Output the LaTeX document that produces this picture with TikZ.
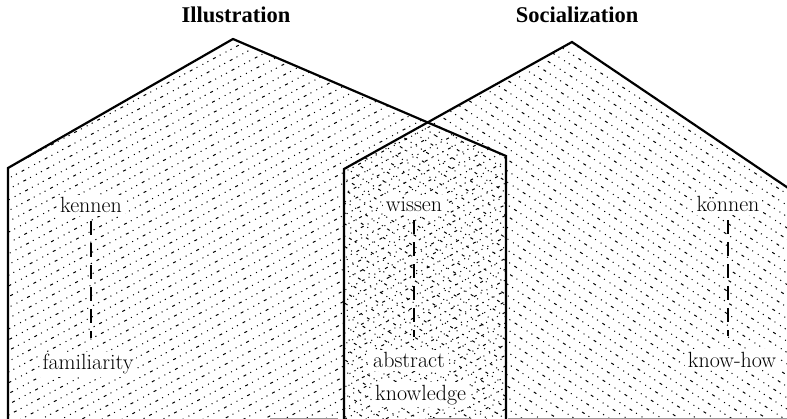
\documentclass[tikz,border=0pt]{standalone}
\usepackage{fontspec}
\newfontfamily\headfont{Liberation Serif}

\begin{document}
\begin{tikzpicture}[x=1pt,y=-1pt,
  wall/.style={line width=2.2pt,line join=miter},
  hatch/.style={line width=1pt,
    dash pattern=on 1pt off 4.6pt on 1.2pt off 5.2pt on 3pt off 4.6pt on 1pt off 5.6pt},
  label/.style={font=\fontsize{22}{26}\selectfont,inner sep=3pt,anchor=base,fill=white},
  heading/.style={font=\headfont\bfseries\fontsize{22.5}{26}\selectfont,anchor=base},
  link/.style={line width=1.4pt,dash pattern=on 14pt off 8pt,
    shorten <=5pt,shorten >=13pt},
  faint/.style={line width=0.8pt,black!40}]

  \useasboundingbox (0,0) rectangle (787,419);

  % hatching of the left house
  \begin{scope}
    \clip (8,419) -- (8,168) -- (233,39) -- (506,156) -- (506,419) -- cycle;
    \foreach \i [evaluate=\i as \ph using {mod(\i*37,17)}] in {-100,...,100}
      \draw[hatch,dash phase=\ph pt,rotate=28] (-1200,\i*9.5) -- (1200,\i*9.5);
  \end{scope}

  % hatching of the right house
  \begin{scope}
    \clip (344,419) -- (344,169) -- (572,42) -- (800,196) -- (800,419) -- cycle;
    \foreach \i [evaluate=\i as \ph using {mod(\i*29,15)}] in {-100,...,100}
      \draw[hatch,dash phase=\ph pt,rotate=-33] (-1200,\i*9.5) -- (1200,\i*9.5);
  \end{scope}

  % outlines
  \draw[wall] (8,419) -- (8,168) -- (233,39) -- (506,156) -- (506,419);
  \draw[wall] (344,419) -- (344,169) -- (572,42) -- (800,196);

  % bottom edge, faint
  \draw[faint] (270,418) -- (338,418);
  \draw[faint] (428,418) -- (470,418);
  \draw[faint] (508,418) -- (787,418);

  % headings
  \node[heading] (illustration) at (236,23) {Illustration};
  \node[heading] (socialization) at (577,23) {Socialization};

  % labels
  \node[label] (kennen) at (91,213) {kennen};
  \node[label] (familiarity) at (88,370) {familiarity};
  \node[label] (wissen) at (414,212) {wissen};
  \node[label,anchor=base west] (abstract) at (370,368) {abstract};
  \node[label,anchor=base west] (knowledge) at (372,400) {knowledge};
  \node[label] (koennen) at (728,212) {können};
  \node[label] (knowhow) at (732,367) {know-how};

  % dashed links
  \draw[link] (kennen.south) -- (kennen.south |- familiarity.north);
  \draw[link] (wissen.south) -- (wissen.south |- abstract.north);
  \draw[link] (koennen.south) -- (koennen.south |- knowhow.north);
\end{tikzpicture}
\end{document}
